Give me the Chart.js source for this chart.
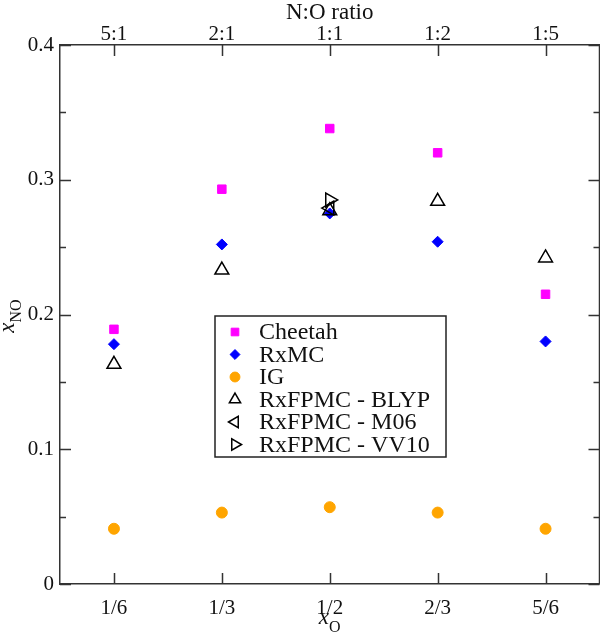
<!DOCTYPE html>
<html>
<head>
<meta charset="utf-8">
<script src="https://cdn.jsdelivr.net/npm/chart.js@4.4.1/dist/chart.umd.min.js"></script>
<style>
  html, body { margin: 0; padding: 0; background: #fff; overflow: hidden; }
  #wrap { width: 600px; height: 633px; overflow: hidden; }
  canvas { display: block; }
</style>
</head>
<body>
<div id="wrap"><canvas id="chart" width="600" height="633"></canvas></div>
<script>
// x positions (oxygen fraction) and the two sets of tick labels
const xValues = [1/6, 1/3, 1/2, 2/3, 5/6];
const xLabels = ['1/6', '1/3', '1/2', '2/3', '5/6'];
const ratioLabels = ['5:1', '2:1', '1:1', '1:2', '1:5'];

// series values (x_NO)
const cheetah = [0.189, 0.293, 0.338, 0.320, 0.215];
const rxmc = [0.178, 0.252, 0.275, 0.254, 0.180];
const ig = [0.041, 0.053, 0.057, 0.053, 0.041];
const blyp = [0.163, 0.233, 0.277, 0.284, 0.242];
const m06X = [1/2];
const m06 = [0.279];
const vv10X = [1/2];
const vv10 = [0.285];

const FONT = '"Liberation Serif", "DejaVu Serif", serif';
const AXIS = '#333';
// right edge of the plot box in the 600 px wide picture
const BOX_RIGHT = 599;

function pts(xs, ys) {
  return ys.map((y, i) => ({ x: xs[i], y: y }));
}

const datasets = [
  { label: 'Cheetah', data: pts(xValues, cheetah), pointStyle: 'rect', pointRadius: 6,
    backgroundColor: '#ff00ff', borderColor: '#ff00ff', borderWidth: 1, order: 2 },
  { label: 'RxMC', data: pts(xValues, rxmc), pointStyle: 'rectRot', pointRadius: 5.5,
    backgroundColor: '#0000ff', borderColor: '#0000ff', borderWidth: 1, order: 2 },
  { label: 'IG', data: pts(xValues, ig), pointStyle: 'circle', pointRadius: 5.5,
    backgroundColor: '#ffa500', borderColor: '#ffa500', borderWidth: 1, order: 2 },
  { label: 'RxFPMC - BLYP', data: pts(xValues, blyp), pointStyle: 'triangle', pointRadius: 8,
    backgroundColor: 'rgba(0,0,0,0)', borderColor: '#000', borderWidth: 1.5, order: 1 },
  { label: 'RxFPMC - M06', data: pts(m06X, m06), pointStyle: 'triangle', pointRotation: -90, pointRadius: 8,
    backgroundColor: 'rgba(0,0,0,0)', borderColor: '#000', borderWidth: 1.5, order: 1 },
  { label: 'RxFPMC - VV10', data: pts(vv10X, vv10), pointStyle: 'triangle', pointRotation: 90, pointRadius: 8,
    backgroundColor: 'rgba(0,0,0,0)', borderColor: '#000', borderWidth: 1.5, order: 1 }
];

// right-hand frame line plus ticks pointing into the plot, on all four sides
const inwardTicks = {
  id: 'inwardTicks',
  beforeDatasetsDraw(chart) {
    const { ctx, chartArea: a, scales } = chart;
    ctx.save();
    ctx.strokeStyle = AXIS;
    ctx.lineWidth = 1.5;
    ctx.beginPath();
    ctx.moveTo(a.right, a.top); ctx.lineTo(a.right, a.bottom);
    scales.x.ticks.forEach(t => {
      const px = Math.round(scales.x.getPixelForValue(t.value)) + 0.5;
      ctx.moveTo(px, a.bottom); ctx.lineTo(px, a.bottom - 11);
    });
    scales.x2.ticks.forEach(t => {
      const px = Math.round(scales.x2.getPixelForValue(t.value)) + 0.5;
      ctx.moveTo(px, a.top); ctx.lineTo(px, a.top + 11);
    });
    scales.y.ticks.forEach(t => {
      const py = Math.round(scales.y.getPixelForValue(t.value)) + 0.5;
      const major = Math.round(t.value * 20) % 2 === 0;
      const len = major ? 11 : 6;
      ctx.moveTo(a.left, py); ctx.lineTo(a.left + len, py);
      ctx.moveTo(a.right, py); ctx.lineTo(a.right - len, py);
    });
    ctx.stroke();
    ctx.restore();
  }
};

// axis titles with subscripts, and the boxed legend
const extras = {
  id: 'extras',
  afterDraw(chart) {
    const { ctx, chartArea: a } = chart;
    const cx = (a.left + a.right) / 2;
    ctx.save();
    ctx.fillStyle = '#111';

    // top title
    ctx.font = '23px ' + FONT;
    ctx.textAlign = 'center';
    ctx.textBaseline = 'alphabetic';
    ctx.fillText('N:O ratio', cx, 19);

    // bottom title x_O
    ctx.textAlign = 'left';
    ctx.font = 'italic 23px ' + FONT;
    const wx = ctx.measureText('x').width;
    ctx.font = '16px ' + FONT;
    const wo = ctx.measureText('O').width;
    let sx = cx - (wx + wo) / 2;
    ctx.font = 'italic 23px ' + FONT;
    ctx.fillText('x', sx, 624);
    ctx.font = '16px ' + FONT;
    ctx.fillText('O', sx + wx, 632);

    // left title x_NO, rotated
    ctx.save();
    ctx.translate(14, 316);
    ctx.rotate(-Math.PI / 2);
    ctx.font = 'italic 23px ' + FONT;
    const wx2 = ctx.measureText('x').width;
    ctx.font = '16px ' + FONT;
    const wno = ctx.measureText('NO').width;
    sx = -(wx2 + wno) / 2;
    ctx.font = 'italic 23px ' + FONT;
    ctx.fillText('x', sx, 0);
    ctx.font = '16px ' + FONT;
    ctx.fillText('NO', sx + wx2, 7);
    ctx.restore();

    // legend box
    const box = { x: 215, y: 316, w: 231, h: 141 };
    ctx.fillStyle = '#fff';
    ctx.fillRect(box.x, box.y, box.w, box.h);
    ctx.strokeStyle = '#222';
    ctx.lineWidth = 1.5;
    ctx.strokeRect(box.x, box.y, box.w, box.h);
    ctx.font = '24px ' + FONT;
    ctx.textBaseline = 'middle';
    chart.data.datasets.forEach((ds, i) => {
      const y = box.y + 16 + i * 22.5;
      ctx.fillStyle = ds.backgroundColor;
      ctx.strokeStyle = ds.borderColor;
      ctx.lineWidth = ds.borderWidth;
      const r = ds.pointStyle === 'triangle' ? 6.5 : ds.pointRadius * 0.9;
      Chart.helpers.drawPoint(ctx, {
        pointStyle: ds.pointStyle, rotation: ds.pointRotation || 0,
        radius: r, borderWidth: ds.borderWidth
      }, 235, y);
      ctx.fillStyle = '#111';
      ctx.fillText(ds.label, 259, y + 1);
    });
    ctx.restore();
  }
};

function makeOptions() {
  return {
    responsive: false,
    animation: false,
    events: [],
    layout: { padding: 0 },
    plugins: { legend: { display: false }, tooltip: { enabled: false } },
    elements: { point: { hoverRadius: 0 } },
    scales: {
      x: {
        type: 'linear', position: 'bottom', min: 1/12, max: 11/12,
        afterBuildTicks: s => { s.ticks = xValues.map(v => ({ value: v })); },
        afterFit: s => { s.height = 49; },
        grid: { display: false, drawTicks: false },
        border: { display: true, color: AXIS, width: 1.5 },
        ticks: {
          autoSkip: false, maxRotation: 0, padding: 12, color: '#111',
          font: { family: FONT, size: 21 },
          callback: (v, i) => xLabels[i]
        }
      },
      x2: {
        type: 'linear', position: 'top', min: 1/12, max: 11/12,
        afterBuildTicks: s => { s.ticks = xValues.map(v => ({ value: v })); },
        afterFit: s => { s.height = 45; },
        grid: { display: false, drawTicks: false },
        border: { display: true, color: AXIS, width: 1.5 },
        ticks: {
          autoSkip: false, maxRotation: 0, padding: -2, color: '#111',
          font: { family: FONT, size: 21 },
          callback: (v, i) => ratioLabels[i]
        }
      },
      y: {
        type: 'linear', position: 'left', min: 0, max: 0.4,
        afterFit: s => { s.width = 60; },
        grid: { display: false, drawTicks: false },
        border: { display: true, color: AXIS, width: 1.5 },
        ticks: {
          stepSize: 0.05, padding: 6, color: '#111',
          font: { family: FONT, size: 21 },
          callback: v => {
            const k = Math.round(v * 20);
            if (k % 2 !== 0) return '';
            return k === 0 ? '0' : (k / 20).toFixed(1);
          }
        }
      }
    }
  };
}

const canvas = document.getElementById('chart');

function build(w) {
  canvas.width = w;
  canvas.height = 633;
  canvas.style.width = w + 'px';
  canvas.style.height = '633px';
  return new Chart(canvas, {
    type: 'scatter',
    data: { datasets: datasets },
    plugins: [inwardTicks, extras],
    options: makeOptions()
  });
}

// Chart.js keeps some space right of the plot for the last tick label;
// widen the canvas (clipped by #wrap) so the frame reaches the picture's edge
let w = 600;
let chart = build(w);
for (let k = 0; k < 3; k++) {
  const d = BOX_RIGHT - chart.chartArea.right;
  if (Math.abs(d) < 0.5) break;
  w = Math.round(w + d);
  chart.destroy();
  chart = build(w);
}
</script>
</body>
</html>
